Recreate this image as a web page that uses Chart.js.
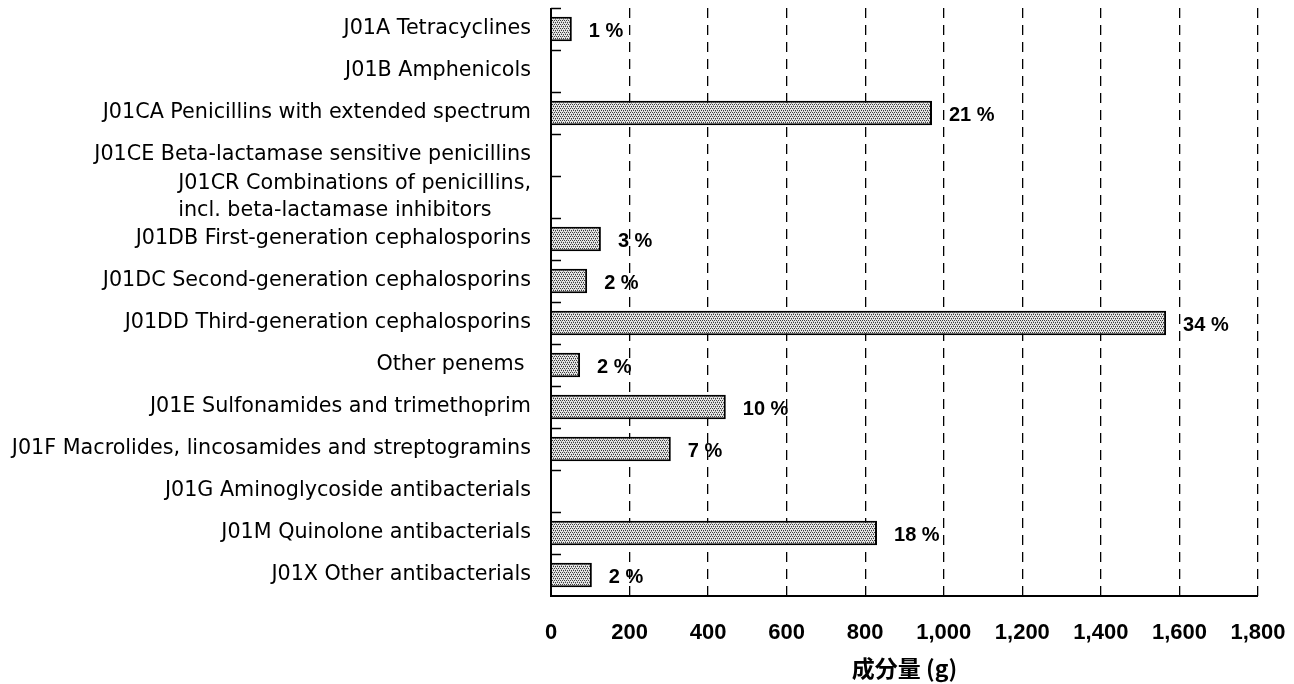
<!DOCTYPE html>
<html><head><meta charset="utf-8">
<script src="https://cdn.jsdelivr.net/npm/chart.js@4/dist/chart.umd.min.js"></script>
<style>html,body{margin:0;padding:0;background:#fff;}#wrap{width:1294px;height:684px;}</style>
</head><body><div id="wrap"><canvas id="c" width="1294" height="684"></canvas></div>
<script>
const categories = [
  "J01A Tetracyclines",
  "J01B Amphenicols",
  "J01CA Penicillins with extended spectrum",
  "J01CE Beta-lactamase sensitive penicillins",
  ["J01CR Combinations of penicillins,", "incl. beta-lactamase inhibitors      "],
  "J01DB First-generation cephalosporins",
  "J01DC Second-generation cephalosporins",
  "J01DD Third-generation cephalosporins",
  "Other penems ",
  "J01E Sulfonamides and trimethoprim",
  "J01F Macrolides, lincosamides and streptogramins",
  "J01G Aminoglycoside antibacterials",
  "J01M Quinolone antibacterials",
  "J01X Other antibacterials"
];
const amounts = [53, null, 970, null, null, 127, 92, 1566, 74, 445, 305, null, 830, 104];
const shareLabels = ["1 %", "", "21 %", "", "", "3 %", "2 %", "34 %", "2 %", "10 %", "7 %", "", "18 %", "2 %"];
const xTicks = [0, 200, 400, 600, 800, 1000, 1200, 1400, 1600, 1800];
const xTitle = "成分量 (g)";

function makePattern(){
  const p = document.createElement('canvas');
  p.width = 4; p.height = 4;
  const g = p.getContext('2d');
  g.fillStyle = '#e6e6e6'; g.fillRect(0,0,4,4);
  g.fillStyle = '#3c3c3c';
  g.fillRect(0,0,1,1); g.fillRect(2,0,1,1);
  g.fillRect(1,2,1,1); g.fillRect(3,2,1,1);
  g.fillStyle = '#999';
  g.fillRect(1,1,1,1); g.fillRect(3,3,1,1);
  return document.getElementById('c').getContext('2d').createPattern(p,'repeat');
}

const innerTicks = {
  id: 'innerTicks',
  afterDraw(chart){
    const ctx = chart.ctx, y = chart.scales.y, a = chart.chartArea;
    ctx.save();
    ctx.strokeStyle = '#000'; ctx.lineWidth = 1.5;
    const n = categories.length;
    const step = y.getPixelForValue(1) - y.getPixelForValue(0);
    for (let i = 0; i < n; i++){
      const py = Math.round(y.getPixelForValue(i) - step/2) + 0.5;
      ctx.beginPath(); ctx.moveTo(a.left, py); ctx.lineTo(a.left + 10, py); ctx.stroke();
    }
    ctx.lineWidth = 2;
    ctx.beginPath(); ctx.moveTo(a.left, a.top); ctx.lineTo(a.left, a.bottom); ctx.lineTo(a.right, a.bottom); ctx.stroke();
    ctx.fillStyle = '#000';
    ctx.font = 'bold 20px "Liberation Sans Narrow", "Liberation Sans", sans-serif';
    ctx.textBaseline = 'middle'; ctx.textAlign = 'left';
    const meta = chart.getDatasetMeta(0);
    meta.data.forEach((bar, i) => {
      if (!shareLabels[i]) return;
      ctx.fillText(shareLabels[i], bar.x + 17, bar.y + 2);
    });
    ctx.restore();
  }
};

new Chart(document.getElementById('c'), {
  type: 'bar',
  data: {
    labels: categories,
    datasets: [{
      data: amounts,
      backgroundColor: makePattern(),
      borderColor: '#000',
      borderWidth: 2,
      barPercentage: 0.58,
      categoryPercentage: 1.0
    }]
  },
  options: {
    indexAxis: 'y',
    responsive: false,
    animation: false,
    layout: { padding: { top: 8, right: 36, left: 0, bottom: 0 } },
    plugins: { legend: { display: false }, tooltip: { enabled: false } },
    scales: {
      x: {
        min: 0, max: 1800,
        afterBuildTicks(s){ s.ticks = xTicks.map(v => ({value: v})); },
        afterFit(s){ s.height = 88; s.paddingLeft = 0; s.paddingRight = 0; },
        grid: { color: '#000', lineWidth: 1.3, drawTicks: false },
        border: { display: false, dash: [10, 7] },
        ticks: {
          color: '#000', padding: 24, maxRotation: 0,
          font: { family: '"Liberation Sans Narrow", "Liberation Sans", sans-serif', size: 22, weight: 'bold' },
          callback: v => v.toLocaleString('en-US')
        },
        title: { display: true, text: xTitle, color: '#000', padding: { top: 4, bottom: 2 },
          font: { family: '"Noto Sans CJK JP", sans-serif', size: 23, weight: 'bold' } }
      },
      y: {
        grid: { display: false },
        border: { display: false },
        afterFit(s){ s.width = 551; s.paddingTop = 0; s.paddingBottom = 0; },
        ticks: {
          color: '#000', padding: 12, autoSkip: false,
          font: { family: '"DejaVu Sans", sans-serif', size: 20.7, lineHeight: 1.33 }
        }
      }
    }
  },
  plugins: [innerTicks]
});
</script>
</body></html>
